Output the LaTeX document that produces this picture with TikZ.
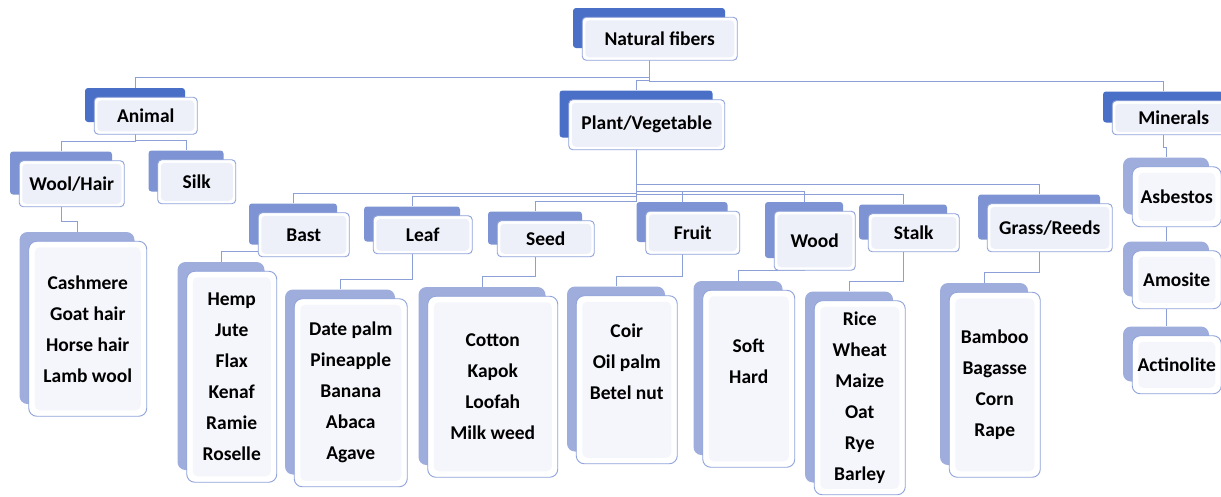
\documentclass[tikz,border=0pt]{standalone}
\usepackage{fontspec}
\setmainfont{Carlito}
\usepackage{xcolor}
\usepackage{tikz}
\usetikzlibrary{positioning, calc, backgrounds}

\definecolor{tabdark}{HTML}{4A6FC6}
\definecolor{tabmid}{HTML}{7D93D3}
\definecolor{tablight}{HTML}{9FADDD}
\definecolor{edgeblue}{HTML}{8FA2DA}
\definecolor{innerfill}{HTML}{EDF0F9}
\definecolor{listfill}{HTML}{F5F6FB}
\definecolor{linkblue}{HTML}{8C9FD7}

\tikzset{
  backtab/.style={fill=#1, rounded corners=3pt, inner sep=0pt},
  frontbox/.style={draw=edgeblue, line width=0.9pt, fill=white, rounded corners=4pt,
    inner sep=1pt, align=center, font=\fontsize{19.5}{31}\selectfont\bfseries,
    path picture={\fill[innerfill] ([shift={(3pt,-3pt)}]path picture bounding box.north west)
      rectangle ([shift={(-3pt,3pt)}]path picture bounding box.south east);}},
  listbox/.style={frontbox, rounded corners=8pt,
    path picture={\fill[listfill, rounded corners=5pt] ([shift={(6pt,-6pt)}]path picture bounding box.north west)
      rectangle ([shift={(-6pt,6pt)}]path picture bounding box.south east);}},
  link/.style={draw=linkblue, line width=0.8pt}
}

% back tab + front box, the name goes to the back tab
\newcommand{\fiberbox}[7]{%
  \node[backtab=#2, minimum width=#5, minimum height=#6] (#1) at (#3,#4) {};
  \node[frontbox, minimum width=#5+3, minimum height=#6+3, anchor=north west]
    (#1-f) at ([shift={(9pt,-9pt)}]#1.north west) {#7};}
\newcommand{\fiberlist}[6][]{%
  \node[backtab=tablight, rounded corners=8pt, minimum width=#4, minimum height=#5] (#2) at (#3) {};
  \node[listbox, #1, minimum width=#4+3, minimum height=#5+3, anchor=north west]
    (#2-f) at ([shift={(9pt,-9pt)}]#2.north west) {#6};}
\newcommand{\branch}[2]{\draw[link] (#1.south) |- ([yshift=10pt]#2.north) -| (#2.north);}

\begin{document}
\begin{tikzpicture}[x=1pt, y=-1pt]
  \useasboundingbox (0,0) rectangle (1221,496);

  % top levels
  \fiberbox{nat}{tabdark}{649}{28}{152}{40}{Natural fibers}
  \fiberbox{animal}{tabdark}{135}{105}{100}{34}{Animal}
  \fiberbox{plant}{tabdark}{636}{114}{153}{47}{Plant/Vegetable}
  \fiberbox{minerals}{tabdark}{1163}{107}{120}{31}{Minerals}

  % animal side
  \fiberbox{wool}{tabmid}{61}{173}{102}{43}{Wool/Hair}
  \fiberbox{silk}{tabmid}{186}{171}{75}{41}{Silk}
  \fiberlist{wool-list}{77,318}{115}{172}{Cashmere\\Goat hair\\Horse hair\\Lamb wool}

  % plant side
  \fiberbox{bast}{tabmid}{293}{224}{88}{41}{Bast}
  \fiberbox{leaf}{tabmid}{412}{224}{96}{35}{Leaf}
  \fiberbox{seed}{tabmid}{535}{228}{94}{33}{Seed}
  \fiberbox{fruit}{tabmid}{682}{222}{91}{40}{Fruit}
  \fiberbox{wood}{tabmid}{804}{230}{78}{56}{Wood}
  \fiberbox{stalk}{tabmid}{903}{222}{88}{35}{Stalk}
  \fiberbox{grass}{tabmid}{1039}{217}{122}{45}{Grass/Reeds}

  \fiberlist{bast-list}{221,366}{87}{208}{Hemp\\Jute\\Flax\\Kenaf\\Ramie\\Roselle}
  \fiberlist{leaf-list}{340,382}{110}{185}{Date palm\\Pineapple\\Banana\\Abaca\\Agave}
  \fiberlist{seed-list}{482,376}{127}{178}{Cotton\\Kapok\\Loofah\\Milk weed}
  \fiberlist[text depth=36pt]{fruit-list}{616,369}{98}{165}{Coir\\Oil palm\\Betel nut}
  \fiberlist[text depth=36pt]{wood-list}{738,368}{89}{174}{Soft\\Hard}
  \fiberlist{stalk-list}{849,387}{88}{191}{Rice\\Wheat\\Maize\\Oat\\Rye\\Barley}
  \fiberlist{grass-list}{984,374}{88}{182}{Bamboo\\Bagasse\\Corn\\Rape}

  % minerals side
  \fiberlist{asbestos}{1166,186}{86}{57}{Asbestos}
  \fiberlist{amosite}{1166,269}{86}{55}{Amosite}
  \fiberlist{actinolite}{1166,354}{86}{55}{Actinolite}

  % connectors
  \begin{pgfonlayer}{background}
    \branch{nat}{animal}
    \branch{nat}{plant}
    \branch{nat}{minerals}
    \branch{animal}{wool}
    \branch{animal}{silk}
    \branch{wool}{wool-list}
    \foreach \k in {bast,leaf,seed,fruit,wood,stalk,grass} {
      \branch{plant}{\k}
      \branch{\k}{\k-list}
    }
    \branch{minerals}{asbestos}
    \branch{asbestos}{amosite}
    \branch{amosite}{actinolite}
  \end{pgfonlayer}
\end{tikzpicture}
\end{document}
